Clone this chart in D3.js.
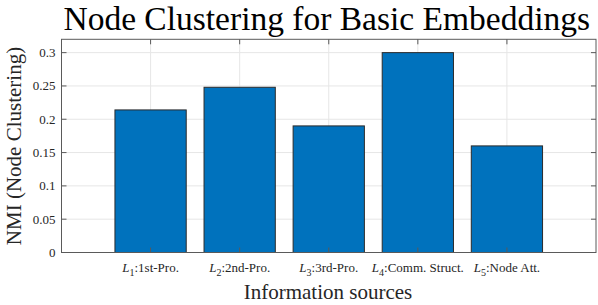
<!DOCTYPE html>
<html>
<head>
<meta charset="utf-8">
<script src="https://cdn.jsdelivr.net/npm/d3@7"></script>
<style>
  body { margin: 0; background: #fff; }
  text { font-family: "Liberation Serif", "DejaVu Serif", serif; }
</style>
</head>
<body>
<script>
// chart data
var sources = ['1', '2', '3', '4', '5'];
var sourceNames = [':1st-Pro.', ':2nd-Pro.', ':3rd-Pro.', ':Comm. Struct.', ':Node Att.'];
var nmi = [0.214, 0.248, 0.19, 0.3, 0.16];
var yTicks = [0, 0.05, 0.1, 0.15, 0.2, 0.25, 0.3];

var W = 598, H = 305;
var svg = d3.select('body').append('svg').attr('width', W).attr('height', H);

// plot box (window.top is reserved, so use other names)
var pLeft = 61.5, pRight = 596, pTop = 39.3, pBottom = 252.5;

// matlab style: bars at 1..5, xlim [0 6], bar width 0.8
var x = d3.scaleLinear().domain([0, 6]).range([pLeft, pRight]);
var y = d3.scaleLinear().domain([0, 0.32]).range([pBottom, pTop]);

// gridlines
svg.append('g').selectAll('line').data(yTicks).enter().append('line')
  .attr('x1', pLeft).attr('x2', pRight)
  .attr('y1', function(d){ return y(d); }).attr('y2', function(d){ return y(d); })
  .attr('stroke', '#e6e6e6').attr('stroke-width', 1);
svg.append('g').selectAll('line').data(sources).enter().append('line')
  .attr('x1', function(d, i){ return x(i + 1); }).attr('x2', function(d, i){ return x(i + 1); })
  .attr('y1', pTop).attr('y2', pBottom)
  .attr('stroke', '#e6e6e6').attr('stroke-width', 1);

// bars
svg.append('g').selectAll('rect').data(nmi).enter().append('rect')
  .attr('x', function(d, i){ return x(i + 1 - 0.4); })
  .attr('width', x(0.8) - x(0))
  .attr('y', function(d){ return y(d); })
  .attr('height', function(d){ return pBottom - y(d); })
  .attr('fill', '#0072BD')
  .attr('stroke', '#2b2b2b').attr('stroke-width', 1);

// axes box and ticks
var ax = '#5a5a5a';
svg.append('rect').attr('x', pLeft).attr('y', pTop)
  .attr('width', pRight - pLeft).attr('height', pBottom - pTop)
  .attr('fill', 'none').attr('stroke', ax).attr('stroke-width', 1);

var tl = 5;
var yt = svg.append('g');
yTicks.forEach(function(d){
  yt.append('line').attr('x1', pLeft).attr('x2', pLeft + tl).attr('y1', y(d)).attr('y2', y(d)).attr('stroke', ax);
  yt.append('line').attr('x1', pRight - tl).attr('x2', pRight).attr('y1', y(d)).attr('y2', y(d)).attr('stroke', ax);
  yt.append('text').attr('x', pLeft - 6).attr('y', y(d) + 4.5)
    .attr('text-anchor', 'end').attr('font-size', 13).attr('fill', '#262626')
    .text(d);
});

var xt = svg.append('g');
sources.forEach(function(s, i){
  var cx = x(i + 1);
  xt.append('line').attr('x1', cx).attr('x2', cx).attr('y1', pBottom).attr('y2', pBottom - tl).attr('stroke', ax);
  xt.append('line').attr('x1', cx).attr('x2', cx).attr('y1', pTop).attr('y2', pTop + tl).attr('stroke', ax);
  var t = xt.append('text').attr('x', cx).attr('y', 272)
    .attr('text-anchor', 'middle').attr('font-size', 13).attr('fill', '#262626');
  t.append('tspan').attr('font-style', 'italic').text('L');
  t.append('tspan').attr('font-size', 10).attr('dy', 4).text(s);
  t.append('tspan').attr('dy', -4).text(sourceNames[i]);
});

// labels
svg.append('text').attr('x', (pLeft + pRight) / 2 - 2).attr('y', 30)
  .attr('text-anchor', 'middle').attr('font-size', 33.5).attr('fill', '#000')
  .text('Node Clustering for Basic Embeddings');
svg.append('text').attr('x', 328).attr('y', 299)
  .attr('text-anchor', 'middle').attr('font-size', 21).attr('fill', '#262626')
  .text('Information sources');
svg.append('text').attr('transform', 'translate(21,146) rotate(-90)')
  .attr('text-anchor', 'middle').attr('font-size', 21).attr('fill', '#262626')
  .text('NMI (Node Clustering)');
</script>
</body>
</html>
